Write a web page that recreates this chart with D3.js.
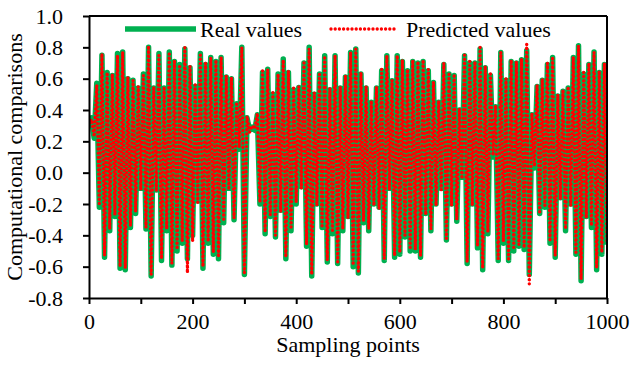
<!DOCTYPE html>
<html>
<head>
<meta charset="utf-8">
<script src="https://cdn.jsdelivr.net/npm/d3@7"></script>
<style>
  body { margin: 0; background: #fff; }
  svg text { font-family: "Liberation Serif", "Times New Roman", serif; fill: #000; }
</style>
</head>
<body>
<div id="chart"></div>
<script>
// sampling step between stored values (sampling points 0..1000)
const sampleStep = 5;

const realValues = [
  0.30, 0.35, 0.22, 0.57, -0.22, 0.75, -0.54, 0.64, -0.37, 0.62,
  -0.28, 0.76, -0.61, 0.77, -0.62, 0.60, -0.35, 0.59, -0.26, 0.54,
  -0.10, 0.63, -0.36, 0.80, -0.66, 0.54, -0.11, 0.76, -0.56, 0.54,
  -0.37, 0.77, -0.59, 0.71, -0.50, 0.69, -0.45, 0.79, -0.55, 0.67,
  -0.40, 0.55, -0.18, 0.76, -0.61, 0.69, -0.45, 0.735, -0.52, 0.71,
  -0.55, 0.735, -0.32, 0.61, -0.10, 0.60, -0.30, 0.44, 0.15, 0.80,
  -0.65, 0.35, 0.27, 0.29, 0.27, 0.37, -0.20, 0.64, -0.39, 0.66,
  -0.28, 0.50, -0.41, 0.63, -0.24, 0.725, -0.55, 0.64, -0.37, 0.53,
  -0.20, 0.544, -0.09, 0.70, -0.47, 0.80, -0.66, 0.50, -0.20, 0.63,
  -0.35, 0.746, -0.57, 0.53, -0.39, 0.746, -0.58, 0.54, -0.37, 0.61,
  -0.28, 0.767, -0.60, 0.79, -0.64, 0.63, -0.32, 0.54, -0.37, 0.45,
  -0.20, 0.54, -0.22, 0.65, -0.56, 0.746, -0.10, 0.587, -0.54, 0.746,
  -0.52, 0.71, -0.41, 0.65, -0.50, 0.71, -0.50, 0.70, -0.54, 0.71,
  -0.26, 0.65, -0.37, 0.576, -0.20, 0.45, -0.10, 0.69, -0.43, 0.63,
  -0.20, 0.62, -0.31, 0.40, -0.03, 0.746, -0.58, 0.70, -0.20, 0.70,
  -0.48, 0.79, -0.62, 0.67, -0.39, 0.62, 0.10, 0.42, -0.56, 0.767,
  -0.45, 0.59, -0.56, 0.71, -0.50, 0.70, -0.47, 0.72, -0.49, 0.78,
  -0.65, 0.37, 0.03, 0.55, -0.26, 0.59, -0.22, 0.69, -0.45, 0.735,
  -0.54, 0.49, -0.16, 0.52, -0.37, 0.54, -0.20, 0.735, -0.52, 0.81,
  -0.69, 0.63, -0.28, 0.69, -0.35, 0.77, -0.62, 0.64, -0.52, 0.69,
  -0.46
];

const predictedValues = [
  0.31, 0.34, 0.23, 0.56, -0.21, 0.76, -0.53, 0.64, -0.36, 0.63,
  -0.27, 0.75, -0.60, 0.77, -0.61, 0.61, -0.34, 0.59, -0.25, 0.55,
  -0.11, 0.62, -0.35, 0.81, -0.65, 0.55, -0.12, 0.76, -0.55, 0.55,
  -0.36, 0.77, -0.58, 0.72, -0.49, 0.69, -0.44, 0.80, -0.64, 0.68,
  -0.44, 0.56, -0.19, 0.75, -0.60, 0.70, -0.44, 0.735, -0.51, 0.72,
  -0.54, 0.74, -0.31, 0.62, -0.11, 0.61, -0.29, 0.45, 0.16, 0.80,
  -0.64, 0.36, 0.26, 0.30, 0.28, 0.38, -0.19, 0.65, -0.38, 0.66,
  -0.27, 0.51, -0.40, 0.63, -0.25, 0.72, -0.54, 0.65, -0.36, 0.54,
  -0.19, 0.55, -0.10, 0.70, -0.46, 0.79, -0.65, 0.51, -0.21, 0.64,
  -0.34, 0.745, -0.56, 0.54, -0.38, 0.75, -0.57, 0.55, -0.36, 0.62,
  -0.29, 0.77, -0.59, 0.79, -0.63, 0.64, -0.31, 0.55, -0.36, 0.46,
  -0.21, 0.55, -0.23, 0.66, -0.55, 0.75, -0.11, 0.59, -0.53, 0.75,
  -0.51, 0.72, -0.40, 0.66, -0.49, 0.72, -0.49, 0.71, -0.53, 0.72,
  -0.27, 0.66, -0.36, 0.58, -0.21, 0.46, -0.11, 0.70, -0.42, 0.64,
  -0.21, 0.63, -0.30, 0.41, -0.04, 0.75, -0.57, 0.71, -0.21, 0.71,
  -0.47, 0.80, -0.61, 0.68, -0.38, 0.63, 0.11, 0.43, -0.55, 0.77,
  -0.44, 0.60, -0.55, 0.72, -0.49, 0.71, -0.46, 0.73, -0.48, 0.82,
  -0.71, 0.38, 0.04, 0.56, -0.25, 0.60, -0.21, 0.70, -0.44, 0.74,
  -0.53, 0.50, -0.17, 0.53, -0.36, 0.55, -0.21, 0.74, -0.51, 0.81,
  -0.68, 0.64, -0.29, 0.70, -0.34, 0.77, -0.61, 0.65, -0.51, 0.70,
  -0.45
];

const xTicks = [0, 100, 200, 300, 400, 500, 600, 700, 800, 900, 1000];
const yTicks = [-0.8, -0.6, -0.4, -0.2, 0.0, 0.2, 0.4, 0.6, 0.8, 1.0];
const seriesNames = ["Real values", "Predicted values"];

const margin = { top: 16, right: 23, bottom: 68, left: 89 };
const width = 630 - margin.left - margin.right;
const height = 366 - margin.top - margin.bottom;

const svg = d3.select("#chart")
  .append("svg")
  .attr("width", 630)
  .attr("height", 366)
  .append("g")
  .attr("transform", `translate(${margin.left}, ${margin.top})`);

const xScale = d3.scaleLinear().domain([0, 1000]).range([0, width]);
const yScale = d3.scaleLinear().domain([-0.8, 1.0]).range([height, 0]);

svg.append("clipPath").attr("id", "plot-clip")
  .append("rect").attr("width", width).attr("height", height);

const line = d3.line()
  .x((d, i) => xScale(i * sampleStep))
  .y(d => yScale(d));

const plot = svg.append("g").attr("clip-path", "url(#plot-clip)");

plot.append("path")
  .datum(realValues)
  .attr("d", line)
  .attr("fill", "none")
  .attr("stroke", "#00B050")
  .attr("stroke-width", 5.5)
  .attr("stroke-linejoin", "round");

plot.append("path")
  .datum(predictedValues)
  .attr("d", line)
  .attr("fill", "none")
  .attr("stroke", "#FF0000")
  .attr("stroke-width", 3.4)
  .attr("stroke-linecap", "round")
  .attr("stroke-linejoin", "round")
  .attr("stroke-dasharray", "0,4.2");

// axes
const xAxis = svg.append("g")
  .attr("transform", `translate(0, ${height})`)
  .call(d3.axisBottom(xScale)
    .tickValues(xTicks)
    .tickSize(6)
    .tickSizeOuter(0)
    .tickPadding(9)
    .tickFormat(d => d % 200 === 0 ? d : ""));

const yAxis = svg.append("g")
  .call(d3.axisLeft(yScale)
    .tickValues(yTicks)
    .tickSize(6)
    .tickSizeOuter(0)
    .tickPadding(20)
    .tickFormat(d => d.toFixed(1)));

[xAxis, yAxis].forEach(a => {
  a.select(".domain").attr("stroke", "#000").attr("stroke-width", 2);
  a.selectAll(".tick line").attr("stroke", "#000").attr("stroke-width", 2);
  a.selectAll(".tick text")
    .style("font-family", '"Liberation Serif", "Times New Roman", serif')
    .style("font-size", "22px")
    .attr("fill", "#000");
});

// frame top and right
svg.append("line")
  .attr("x1", 0).attr("x2", width).attr("y1", 0).attr("y2", 0)
  .attr("stroke", "#000").attr("stroke-width", 2);
svg.append("line")
  .attr("x1", width).attr("x2", width).attr("y1", 0).attr("y2", height)
  .attr("stroke", "#000").attr("stroke-width", 2);

// axis titles
svg.append("text")
  .attr("x", width / 2)
  .attr("y", height + 54)
  .style("text-anchor", "middle")
  .style("font-size", "22px")
  .text("Sampling points");

svg.append("text")
  .attr("x", -height / 2)
  .attr("y", -67)
  .attr("transform", "rotate(-90)")
  .style("text-anchor", "middle")
  .style("font-size", "22px")
  .text("Computational comparisons");

// legend
const legend = svg.append("g").attr("transform", "translate(0, 13)");
legend.append("line")
  .attr("x1", 36).attr("x2", 107).attr("y1", 0).attr("y2", 0)
  .attr("stroke", "#00B050").attr("stroke-width", 5.5);
legend.append("text")
  .attr("x", 111).attr("y", 0).attr("dy", "0.35em")
  .style("font-size", "22px")
  .text(seriesNames[0]);
legend.append("line")
  .attr("x1", 242).attr("x2", 309).attr("y1", 0).attr("y2", 0)
  .attr("stroke", "#FF0000").attr("stroke-width", 3.4)
  .attr("stroke-linecap", "round")
  .attr("stroke-dasharray", "0,4.2");
legend.append("text")
  .attr("x", 317).attr("y", 0).attr("dy", "0.35em")
  .style("font-size", "22px")
  .text(seriesNames[1]);
</script>
</body>
</html>
